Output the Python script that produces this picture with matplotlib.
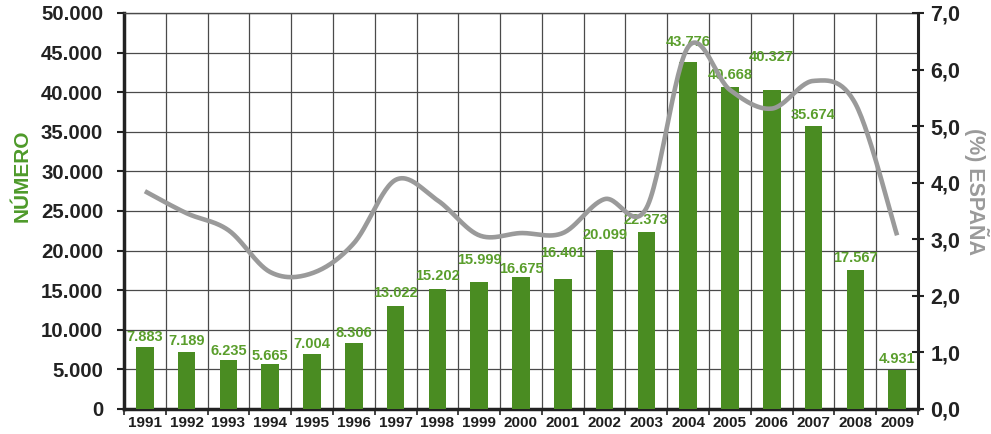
import numpy as np
import matplotlib
matplotlib.use("Agg")
import matplotlib.pyplot as plt

years = ["1991", "1992", "1993", "1994", "1995", "1996", "1997", "1998", "1999", "2000",
         "2001", "2002", "2003", "2004", "2005", "2006", "2007", "2008", "2009"]
numero = [7883, 7189, 6235, 5665, 7004, 8306, 13022, 15202, 15999, 16675,
          16401, 20099, 22373, 43776, 40668, 40327, 35674, 17567, 4931]
pct_espana = [3.85, 3.46, 3.16, 2.42, 2.40, 2.93, 4.05, 3.69, 3.07, 3.11,
              3.11, 3.71, 3.55, 6.40, 5.64, 5.31, 5.80, 5.40, 3.07]
left_ticks = [0, 5000, 10000, 15000, 20000, 25000, 30000, 35000, 40000, 45000, 50000]
right_ticks = [0, 1, 2, 3, 4, 5, 6, 7]
# vertical offset (points) of each bar label centre above its bar, as in the original
label_offsets = [7.2, 7.9, 6.5, 5.8, 7.2, 7.2, 9.4, 9.4, 15.8, 5.8,
                 18.7, 10.8, 8.6, 14.4, 8.6, 23.8, 7.9, 8.6, 7.9]

plt.rcParams['font.family'] = ['Liberation Sans', 'DejaVu Sans']
plt.rcParams['font.weight'] = 'bold'

BAR = '#4a8c22'
LBL = '#5a9e2c'
GRID = '#4a4a4a'
LINE = '#9a9a9a'
TXT = '#1e1e1e'

fig = plt.figure(figsize=(9.91, 4.34), dpi=100)
ax = fig.add_axes([124/991, 25/434, (918-124)/991, (409-13)/434])
x = np.arange(len(years))

ax.set_xlim(-0.5, len(years) - 0.5)
ax.set_ylim(0, 50000)
ax.bar(x, numero, width=0.42, color=BAR, zorder=3)

# grid
for yv in left_ticks[1:]:
    ax.axhline(yv, color=GRID, lw=0.9, zorder=1)
for b in np.arange(0.5, len(years) - 0.5, 1.0):
    ax.axvline(b, color=GRID, lw=0.9, zorder=1)

for xi, v, off in zip(x, numero, label_offsets):
    ax.annotate(f"{v:,}".replace(",", "."), (xi, v), xytext=(0, off), textcoords='offset points',
                ha='center', va='center', color=LBL, fontsize=10.5, fontweight='bold', zorder=6)

ax.set_yticks(left_ticks)
ax.set_yticklabels([f"{v:,}".replace(",", ".") for v in left_ticks])
ax.tick_params(axis='y', direction='out', length=5, width=1.5, pad=10, labelsize=14.7, colors='#222222')
ax.set_xticks(x)
ax.set_xticklabels(years)
ax.set_xticks(np.arange(-0.5, len(years), 1.0), minor=True)
ax.tick_params(axis='x', which='major', length=0, pad=5, labelsize=11, colors=TXT)
ax.tick_params(axis='x', which='minor', direction='out', length=4, width=1.2, color='#222222')

for s in ['left', 'bottom']:
    ax.spines[s].set_linewidth(2.5)
    ax.spines[s].set_color('#222222')
ax.spines['top'].set_color(GRID)
ax.spines['top'].set_linewidth(1.0)
ax.spines['right'].set_visible(False)

ax.set_ylabel("NÚMERO", color='#4e9a2a', fontsize=15, fontweight='bold', va='center')
ax.yaxis.set_label_coords(-0.128, 0.588)

# secondary axis
ax2 = ax.twinx()
ax2.set_ylim(0, 7)
ax2.set_yticks(right_ticks)
ax2.set_yticklabels([f"{v:.1f}".replace(".", ",") for v in right_ticks])
ax2.tick_params(axis='y', direction='inout', length=8, width=1.5, pad=5, labelsize=15.5, colors='#222222')
ax2.spines['right'].set_linewidth(2.2)
ax2.spines['right'].set_color('#222222')
for s in ['left', 'top', 'bottom']:
    ax2.spines[s].set_visible(False)
ax2.set_ylabel("(%) ESPAÑA", color=LINE, fontsize=15.5, fontweight='bold', rotation=270, va='center')
ax2.yaxis.set_label_coords(1.074, 0.548)

# smoothed line (Excel-style Bezier smoothing through the data points)
P = np.column_stack([x.astype(float), np.array(pct_espana, dtype=float)])
Pe = np.vstack([P[0], P, P[-1]])
t = np.linspace(0, 1, 30)[:, None]
segs = []
for i in range(len(P) - 1):
    p0 = Pe[i + 1]; p3 = Pe[i + 2]
    c1 = p0 + (Pe[i + 2] - Pe[i]) / 6.0
    c2 = p3 - (Pe[i + 3] - Pe[i + 1]) / 6.0
    seg = (1 - t) ** 3 * p0 + 3 * (1 - t) ** 2 * t * c1 + 3 * (1 - t) * t ** 2 * c2 + t ** 3 * p3
    segs.append(seg if i == 0 else seg[1:])
curve = np.vstack(segs)
ax2.plot(curve[:, 0], curve[:, 1], color=LINE, lw=3.3, solid_capstyle='butt', zorder=5)

fig.savefig("out.png", dpi=100)
